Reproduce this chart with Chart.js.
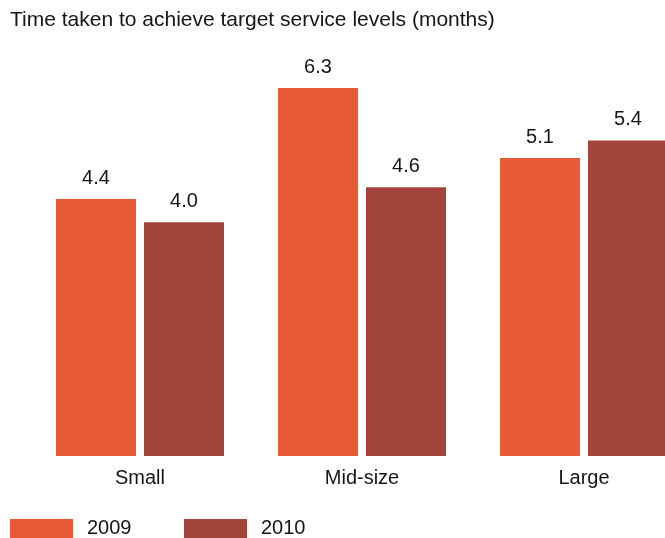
<!DOCTYPE html>
<html>
<head>
<meta charset="utf-8">
<script src="https://cdn.jsdelivr.net/npm/chart.js@4/dist/chart.umd.min.js"></script>
<style>
  html, body { margin: 0; padding: 0; background: #fff; overflow: hidden; }
  #wrap { width: 695px; height: 538px; }
</style>
</head>
<body>
<div id="wrap"><canvas id="myChart" width="695" height="538"></canvas></div>
<script>
let sizes = ['Small', 'Mid-size', 'Large'];
let years = ['2009', '2010'];
let months2009 = [4.4, 6.3, 5.1];
let months2010 = [4.0, 4.6, 5.4];
let colors = ['#E85A37', '#A3443B'];

const FONT = '"Liberation Sans", Arial, Helvetica, sans-serif';
const INK = '#151515';

// value printed above every bar
const barValues = {
    id: 'barValues',
    afterDatasetsDraw(chart) {
        const ctx = chart.ctx;
        ctx.save();
        ctx.font = '20px ' + FONT;
        ctx.fillStyle = INK;
        ctx.textAlign = 'center';
        ctx.textBaseline = 'alphabetic';
        chart.data.datasets.forEach((ds, i) => {
            chart.getDatasetMeta(i).data.forEach((bar, j) => {
                ctx.fillText(ds.data[j].toFixed(1), bar.x, bar.y - 15);
            });
        });
        ctx.restore();
    }
};

// simple legend row along the bottom
const legendRow = {
    id: 'legendRow',
    afterDraw(chart) {
        const ctx = chart.ctx;
        ctx.save();
        ctx.font = '20px ' + FONT;
        ctx.textBaseline = 'alphabetic';
        chart.data.datasets.forEach((ds, i) => {
            const x = 10 + i * 174;
            ctx.fillStyle = ds.backgroundColor;
            ctx.fillRect(x, 519, 63, 20);
            ctx.fillStyle = INK;
            ctx.fillText(ds.label, x + 77, 534);
        });
        ctx.restore();
    }
};

new Chart('myChart', {
    type: 'bar',
    data: {
        labels: sizes,
        datasets: [{
            label: years[0],
            data: months2009,
            backgroundColor: colors[0]
        }, {
            label: years[1],
            data: months2010,
            backgroundColor: colors[1]
        }]
    },
    options: {
        responsive: false,
        animation: false,
        layout: { padding: { left: 10, right: 0, top: 0, bottom: 42 } },
        categoryPercentage: 176 / 222,
        barPercentage: 80 / 88,
        plugins: {
            legend: { display: false },
            tooltip: { enabled: false },
            title: {
                display: true,
                text: 'Time taken to achieve target service levels (months)',
                align: 'start',
                color: INK,
                font: { family: FONT, size: 21, weight: 'normal', lineHeight: 1.2 },
                padding: { top: 8, bottom: 13.8 }
            }
        },
        scales: {
            x: {
                grid: { display: false, drawTicks: false },
                border: { display: false },
                ticks: {
                    color: INK,
                    padding: 10,
                    font: { family: FONT, size: 20 }
                },
                afterFit(scale) { scale.height = 40; }
            },
            y: {
                min: 0,
                max: 7,
                grid: { display: false, drawTicks: false },
                border: { display: false },
                ticks: { display: false },
                afterFit(scale) { scale.width = 19; }
            }
        }
    },
    plugins: [barValues, legendRow]
});
</script>
</body>
</html>
